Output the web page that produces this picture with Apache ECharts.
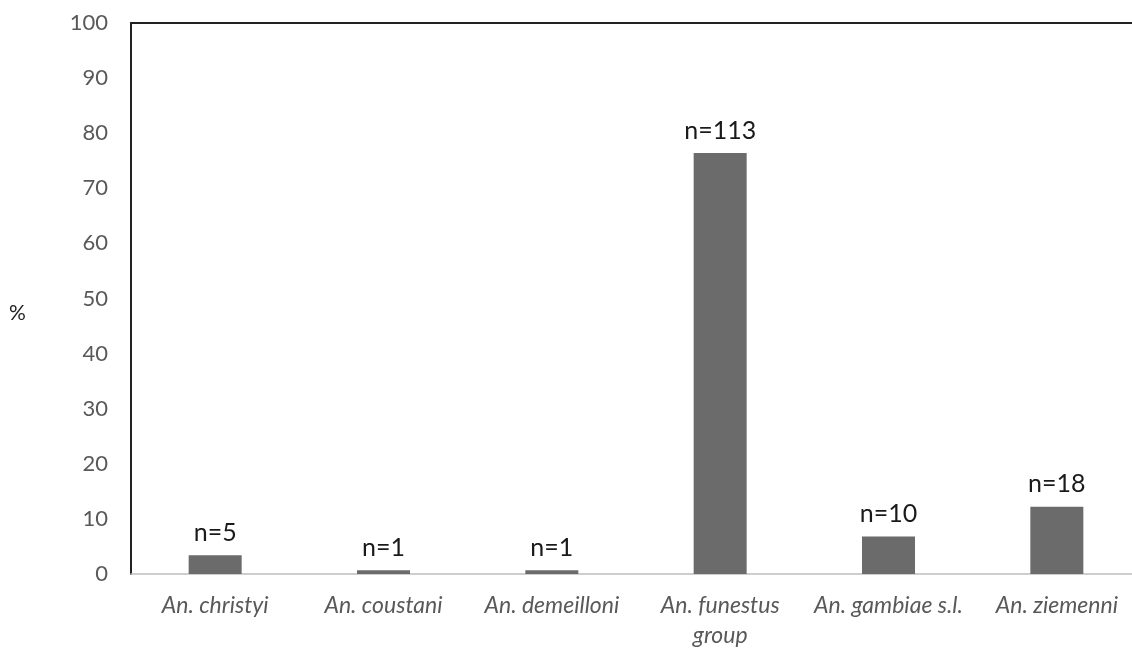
<!DOCTYPE html>
<html>
<head>
<meta charset="utf-8">
<script src="https://cdn.jsdelivr.net/npm/echarts@6/dist/echarts.min.js"></script>
<style>
  html, body { margin: 0; padding: 0; background: #fff; }
  #chart { width: 1132px; height: 649px; }
</style>
</head>
<body>
<div id="chart"></div>
<script>
// species on the x axis
var categories = ['An. christyi', 'An. coustani', 'An. demeilloni', 'An. funestus\ngroup', 'An. gambiae s.l.', 'An. ziemenni'];
// percentage of each species
var percents = [3.4, 0.7, 0.7, 76.4, 6.8, 12.2];
// counts shown above the bars
var counts = [5, 1, 1, 113, 10, 18];
var yTicks = [0, 10, 20, 30, 40, 50, 60, 70, 80, 90, 100];

var myChart = echarts.init(document.getElementById('chart'));
var font = 'Lato, "Open Sans", sans-serif';

var option = {
    animation: false,
    // plot runs a little off the right edge in the original
    grid: { left: 131, top: 23, width: 1010, height: 551, outerBoundsMode: 'none', containLabel: false },
    graphic: [
        {
            type: 'text',
            left: 9,
            top: 303,
            style: { text: '%', font: '21px ' + font, fill: '#222' }
        }
    ],
    xAxis: [
        {
            type: 'category',
            data: categories,
            axisLine: { lineStyle: { color: '#bfbfbf', width: 1.5 } },
            axisTick: { show: false },
            axisLabel: {
                interval: 0,
                margin: 17,
                fontFamily: font,
                fontStyle: 'italic',
                fontSize: 23,
                lineHeight: 30,
                color: '#595959'
            }
        },
        {
            // black top border
            type: 'category',
            position: 'top',
            data: categories,
            axisLine: { lineStyle: { color: '#222', width: 2 } },
            axisTick: { show: false },
            axisLabel: { show: false }
        }
    ],
    yAxis: {
        type: 'value',
        min: yTicks[0],
        max: yTicks[yTicks.length - 1],
        interval: 10,
        axisLine: { show: true, lineStyle: { color: '#222', width: 2 } },
        axisTick: { show: false },
        splitLine: { show: false },
        axisLabel: { margin: 23, fontFamily: font, fontSize: 22, color: '#595959' }
    },
    series: [
        {
            type: 'bar',
            data: percents,
            barWidth: 53,
            itemStyle: { color: '#6b6b6b' },
            label: {
                show: true,
                position: 'top',
                distance: 10,
                fontFamily: font,
                fontSize: 25,
                color: '#1a1a1a',
                formatter: function (p) { return 'n=' + counts[p.dataIndex]; }
            }
        }
    ]
};

option && myChart.setOption(option);
</script>
</body>
</html>
